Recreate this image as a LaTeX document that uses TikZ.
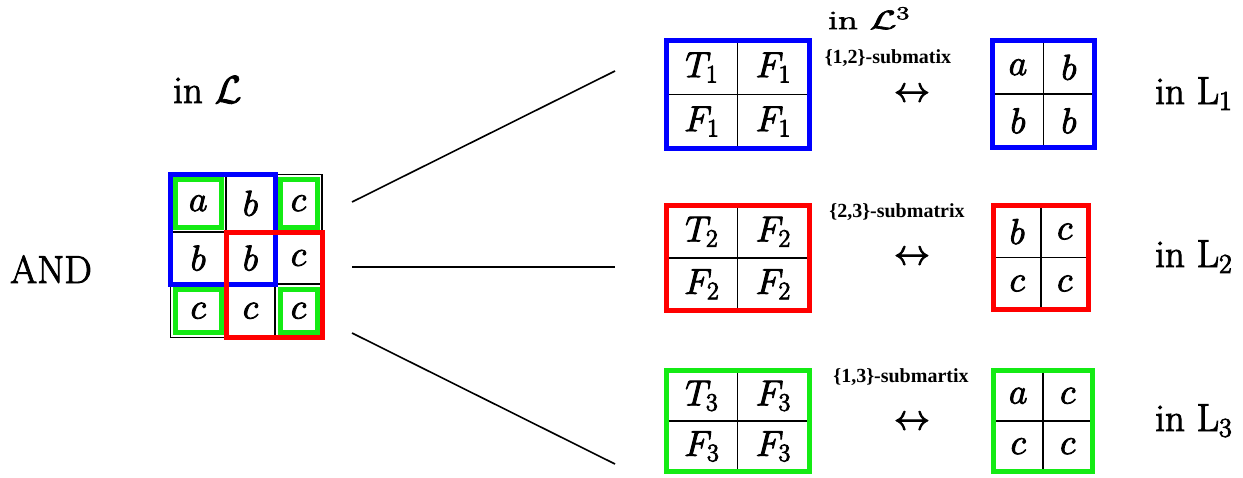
\RequirePackage{fix-cm}
\documentclass[tikz,border=0pt]{standalone}
\usepackage{fontspec}
\newfontfamily\labfont{Liberation Serif}
\usetikzlibrary{fit}
\definecolor{mblue}{RGB}{0,0,255}
\definecolor{mred}{RGB}{255,0,0}
\definecolor{mgreen}{RGB}{20,235,20}
\newcommand\heavyon{\special{pdf:literal 2 Tr 0.9 w}}
\newcommand\heavyoff{\special{pdf:literal 0 Tr}}
\newcommand\bigtxt{\fontsize{36}{40}\selectfont}
\newcommand\labtxt{\fontsize{39}{42}\selectfont}
\newcommand\hv[1]{\heavyon#1\heavyoff}
% #1 name, #2 centre, #3 cell width, #4 cell height, #5 colour, #6-#9 entries
\newcommand\twobytwo[9]{%
  \node[cell, minimum width=#3, minimum height=#4, anchor=south east] (#1-11) at (#2) {\hv{$#6$}};
  \node[cell, minimum width=#3, minimum height=#4, anchor=south west] (#1-12) at (#2) {\hv{$#7$}};
  \node[cell, minimum width=#3, minimum height=#4, anchor=north east] (#1-21) at (#2) {\hv{$#8$}};
  \node[cell, minimum width=#3, minimum height=#4, anchor=north west] (#1-22) at (#2) {\hv{$#9$}};
  \node[hl=#5, fit=(#1-11)(#1-22)] (#1) {};
}
\begin{document}
\begin{tikzpicture}[x=1pt,y=-1pt,
  cell/.style={draw=black, line width=1.6pt, inner sep=0pt, outer sep=0pt, font=\bigtxt},
  hl/.style={draw=#1, line width=5pt, inner sep=0pt},
  hlin/.style={draw=#1, line width=5pt, inner sep=-5pt},
  conn/.style={draw=black, line width=1.6pt},
  lbl/.style={font=\labtxt, inner sep=0pt},
  arr/.style={font=\bigtxt, inner sep=0pt},
  sub/.style={font=\labfont\bfseries\fontsize{20}{22}\selectfont, inner sep=0pt}]
\useasboundingbox (0,0) rectangle (1243,477);

% left 3x3 matrix
\node[cell, minimum width=55.5, minimum height=57.5] (m11) at (198.25,203.25) {\hv{$a$}};
\node[cell, minimum width=49,   minimum height=57.5] (m12) at (250.5,203.25) {\hv{$b$}};
\node[cell, minimum width=47,   minimum height=57.5] (m13) at (298.5,203.25) {\hv{$c$}};
\node[cell, minimum width=55.5, minimum height=52] (m21) at (198.25,258) {\hv{$b$}};
\node[cell, minimum width=49,   minimum height=52] (m22) at (250.5,258) {\hv{$b$}};
\node[cell, minimum width=47,   minimum height=52] (m23) at (298.5,258) {\hv{$c$}};
\node[cell, minimum width=55.5, minimum height=53.5] (m31) at (198.25,310.75) {\hv{$c$}};
\node[cell, minimum width=49,   minimum height=53.5] (m32) at (250.5,310.75) {\hv{$c$}};
\node[cell, minimum width=47,   minimum height=53.5] (m33) at (298.5,310.75) {\hv{$c$}};
\node[hlin=mgreen, fit=(m11)] (g11) {};
\node[hlin=mgreen, fit=(m13)] (g13) {};
\node[hlin=mgreen, fit=(m31)] (g31) {};
\node[hlin=mgreen, fit=(m33)] (g33) {};
\node[hl=mblue, fit=(m11)(m22)] (bl) {};
\node[hl=mred, fit=(m22)(m33)] (rd) {};

% labels on the left
\node[lbl, anchor=base west] (inL) at (173,103) {\hv{in $\mathcal{L}$}};
\node[lbl, anchor=base west] (and) at (10,283) {\hv{AND}};

% connectors
\coordinate (s1) at (352,202);
\coordinate (s2) at (352,267);
\coordinate (s3) at (352,333);
\coordinate (e1) at (615,71);
\coordinate (e2) at (615,267);
\coordinate (e3) at (615,464);
\draw[conn] (s1) -- (e1);
\draw[conn] (s2) -- (e2);
\draw[conn] (s3) -- (e3);

% T/F matrices
\twobytwo{ta}{737.5,94.5}{71.5}{54}{mblue}{T_1}{F_1}{F_1}{F_1}
\twobytwo{tb}{737.5,258}{71.5}{52.5}{mred}{T_2}{F_2}{F_2}{F_2}
\twobytwo{tc}{737.5,421}{71.5}{50.5}{mgreen}{T_3}{F_3}{F_3}{F_3}

% small matrices
\twobytwo{sa}{1043.5,94}{51}{53.5}{mblue}{a}{b}{b}{b}
\twobytwo{sb}{1041,257.5}{47.5}{52}{mred}{b}{c}{c}{c}
\twobytwo{sc}{1043,421}{49.5}{50.5}{mgreen}{a}{c}{c}{c}

% top label
\node[lbl, anchor=base west] (inL3) at (828,29) {\scalebox{1}[0.68]{\hv{in $\mathcal{L}^3$}}};

% submatrix labels
\node[sub] (l1) at (888,58) {\{1,2\}-submatix};
\node[sub] (l2) at (897,212) {\{2,3\}-submatrix};
\node[sub] (l3) at (901,377) {\{1,3\}-submartix};

% arrows
\node[arr] (a1) at (912,95) {\hv{$\leftrightarrow$}};
\node[arr] (a2) at (912,258) {\hv{$\leftrightarrow$}};
\node[arr] (a3) at (912,423) {\hv{$\leftrightarrow$}};

% right labels
\node[lbl, anchor=base west] (r1) at (1155,104) {\hv{in L$_1$}};
\node[lbl, anchor=base west] (r2) at (1155,267) {\hv{in L$_2$}};
\node[lbl, anchor=base west] (r3) at (1155,431) {\hv{in L$_3$}};
\end{tikzpicture}
\end{document}
